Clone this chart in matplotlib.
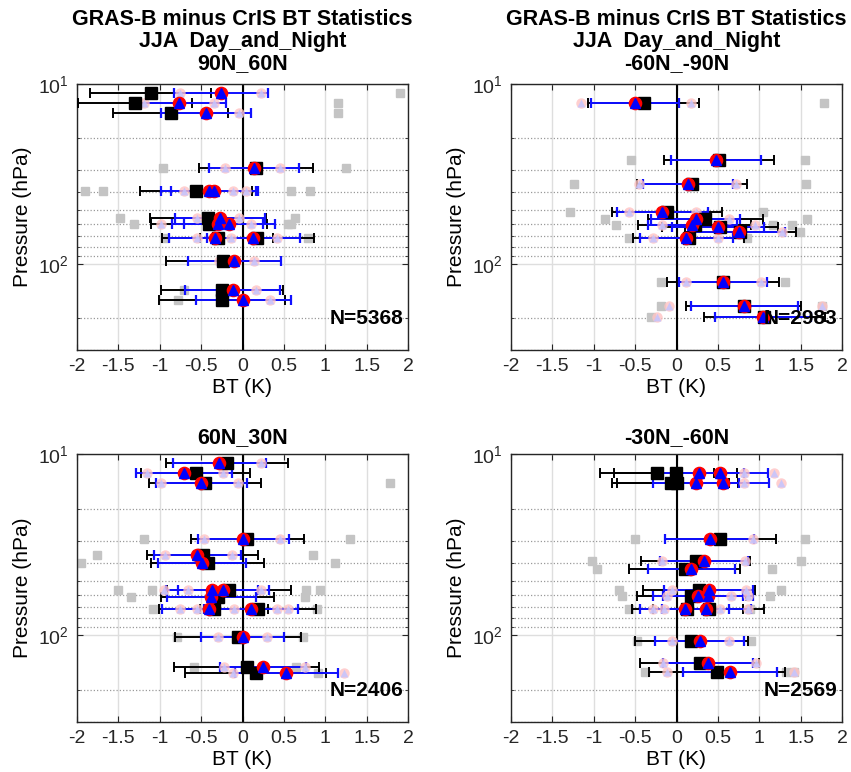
import matplotlib
matplotlib.use("Agg")
import matplotlib.pyplot as plt
from matplotlib.ticker import LogLocator, NullFormatter, FixedLocator

plt.rcParams['font.family'] = ['Liberation Sans', 'DejaVu Sans']
plt.rcParams['axes.unicode_minus'] = False

title_main = "GRAS-B minus CrIS BT Statistics\nJJA  Day_and_Night"
regions = ["90N_60N", "-60N_-90N", "60N_30N", "-30N_-60N"]
counts = ["N=5368", "N=2983", "N=2406", "N=2569"]
xticks = [-2, -1.5, -1, -0.5, 0, 0.5, 1, 1.5, 2]
xtick_labels = ["-2", "-1.5", "-1", "-0.5", "0", "0.5", "1", "1.5", "2"]

# ---------------- Panel 1: 90N_60N ----------------
p1_blk_p = [11.2, 12.8, 14.5, 29.3, 39.4, 55.2, 60.0, 71.3, 71.3, 95.8, 140, 159]
p1_blk_x = [-1.11, -1.30, -0.87, 0.16, -0.565, -0.42, -0.40, -0.30, 0.18, -0.23, -0.25, -0.25]
p1_blk_e = [0.73, 0.69, 0.69, 0.69, 0.675, 0.70, 0.70, 0.67, 0.69, 0.70, 0.74, 0.76]
p1_tri_p = [11.2, 12.8, 14.5, 29.3, 39.4, 39.4, 55.2, 60.0, 60.0, 71.3, 71.3, 95.8, 140, 159]
p1_tri_x = [-0.26, -0.77, -0.44, 0.14, -0.41, -0.34, -0.27, -0.30, -0.16, -0.33, 0.13, -0.10, -0.12, 0.01]
p1_tri_e = [0.565, 0.575, 0.545, 0.545, 0.57, 0.53, 0.54, 0.55, 0.55, 0.56, 0.56, 0.56, 0.57, 0.575]
p1_gray_x = [1.90, 1.15, 1.15, -0.96, 1.25, -1.90, -1.69, 0.585, 0.82, -1.48, 0.64, -1.31, 0.545, 0.585, -0.94, 0.79, -0.71, -0.775]
p1_gray_p = [11.2, 12.8, 14.5, 29.3, 29.3, 39.4, 39.4, 39.4, 39.4, 55.2, 55.2, 60.0, 60.0, 60.0, 71.3, 71.3, 140, 159]
p1_lt_x = [-0.75, 0.22, -1.19, -0.34, -0.04, -0.21, 0.45, -0.71, -0.12, 0.04, -0.545, -0.04, -0.99, 0.10, -0.545, -0.14, 0.42, -0.28, 0.14, 0.16, 0.33]
p1_lt_p = [11.2, 11.2, 12.8, 12.8, 14.5, 29.3, 29.3, 39.4, 39.4, 39.4, 55.2, 55.2, 60.0, 60.0, 71.3, 71.3, 71.3, 95.8, 95.8, 140, 159]

# ---------------- Panel 2: -60N_-90N ----------------
p2_blk_p = [12.8, 26.3, 36.1, 51.4, 56.5, 60.4, 62.0, 66.0, 71.3, 125, 170, 197]
p2_blk_x = [-0.395, 0.51, 0.19, -0.11, 0.35, 0.22, 0.53, 0.77, 0.15, 0.56, 0.81, 1.06]
p2_blk_e = [0.67, 0.665, 0.665, 0.665, 0.69, 0.68, 0.70, 0.67, 0.67, 0.68, 0.70, 0.73]
p2_tri_p = [12.8, 26.3, 36.1, 51.4, 56.5, 60.4, 62.0, 66.0, 71.3, 125, 170, 197]
p2_tri_x = [-0.50, 0.48, 0.14, -0.17, 0.23, 0.19, 0.50, 0.75, 0.12, 0.56, 0.82, 1.05]
p2_tri_e = [0.535, 0.545, 0.54, 0.545, 0.54, 0.54, 0.56, 0.56, 0.56, 0.53, 0.65, 0.58]
p2_gray_x = [1.78, -0.55, 1.55, -1.24, 1.57, -1.29, 1.05, -0.87, 1.58, -0.73, 1.17, 1.39, 1.49, -0.57, 0.85, -0.19, 1.31, -0.19, 1.76, -0.31]
p2_gray_p = [12.8, 26.3, 26.3, 36.1, 36.1, 51.4, 51.4, 56.5, 56.5, 60.4, 60.4, 60.4, 66.0, 71.3, 71.3, 125, 125, 170, 170, 197]
p2_lt_x = [-1.16, 0.17, -0.45, 0.72, -0.58, 0.23, 0.64, -0.18, 0.95, 1.28, -0.28, 0.50, 0.12, 1.02, -0.09, 1.76, -0.23]
p2_lt_p = [12.8, 12.8, 36.1, 36.1, 51.4, 51.4, 56.5, 60.4, 60.4, 66.0, 71.3, 71.3, 125, 125, 170, 170, 197]

# ---------------- Panel 3: 60N_30N ----------------
p3_blk_p = [11.2, 12.7, 14.5, 29.3, 36.1, 39.8, 56.4, 61.4, 71.3, 71.3, 102, 149.6, 161]
p3_blk_x = [-0.19, -0.565, -0.455, 0.06, -0.48, -0.42, -0.16, -0.30, -0.35, 0.19, -0.05, 0.05, 0.16]
p3_blk_e = [0.74, 0.66, 0.68, 0.685, 0.67, 0.68, 0.75, 0.68, 0.66, 0.70, 0.76, 0.88, 0.85]
p3_tri_p = [11.2, 12.7, 14.5, 29.3, 36.1, 39.8, 56.4, 56.4, 61.4, 71.3, 71.3, 102, 149.6, 161]
p3_tri_x = [-0.28, -0.71, -0.50, 0.01, -0.545, -0.49, -0.37, -0.23, -0.375, -0.41, 0.10, 0.0, 0.25, 0.53]
p3_tri_e = [0.56, 0.58, 0.55, 0.55, 0.53, 0.53, 0.56, 0.55, 0.54, 0.56, 0.57, 0.50, 0.52, 0.62]
p3_gray_x = [1.78, -1.19, 1.30, -1.76, 0.85, -1.95, 1.12, -1.51, -1.09, 0.77, 0.94, -1.35, 0.76, -1.08, 0.90, -0.79, 0.73, -0.585, 0.65, 0.91]
p3_gray_p = [14.5, 29.3, 29.3, 36.1, 36.1, 39.8, 39.8, 56.4, 56.4, 56.4, 56.4, 61.4, 61.4, 71.3, 71.3, 102, 102, 149.6, 149.6, 161]
p3_lt_x = [0.22, -1.15, -0.24, -0.99, -0.06, -0.46, 0.45, -0.94, -0.13, -0.95, -0.66, 0.22, -0.75, -0.55, -0.10, 0.42, 0.55, -0.30, 0.30, -0.22, 0.75, -0.12, 1.23]
p3_lt_p = [11.2, 12.7, 12.7, 14.5, 14.5, 29.3, 29.3, 36.1, 36.1, 56.4, 56.4, 56.4, 71.3, 71.3, 71.3, 71.3, 71.3, 102, 102, 149.6, 149.6, 161, 161]

# ---------------- Panel 4: -30N_-60N ----------------
p4_blk_p = [12.8, 12.8, 14.5, 14.5, 29.3, 38.9, 43.2, 55.9, 60.5, 71.3, 71.3, 108, 142, 159]
p4_blk_x = [-0.24, -0.01, -0.07, 0.01, 0.53, 0.23, 0.10, 0.27, 0.18, 0.13, 0.39, 0.18, 0.28, 0.49]
p4_blk_e = [0.69, 0.74, 0.71, 0.73, 0.67, 0.66, 0.67, 0.68, 0.66, 0.67, 0.67, 0.68, 0.72, 0.82]
p4_tri_p = [12.8, 12.8, 14.5, 14.5, 29.3, 38.9, 43.2, 55.9, 60.5, 60.5, 71.3, 71.3, 108, 142, 159]
p4_tri_x = [0.27, 0.53, 0.23, 0.56, 0.40, 0.33, 0.18, 0.39, 0.26, 0.38, 0.10, 0.36, 0.28, 0.38, 0.645]
p4_tri_e = [0.54, 0.57, 0.52, 0.56, 0.54, 0.53, 0.53, 0.54, 0.54, 0.54, 0.54, 0.54, 0.54, 0.54, 0.57]
p4_gray_x = [-0.50, 1.55, -1.02, 1.51, -0.96, 1.16, -0.70, 1.26, -0.66, 1.13, -0.57, 0.89, -0.48, 0.90, -0.375, 1.32, 1.42]
p4_gray_p = [29.3, 29.3, 38.9, 38.9, 43.2, 43.2, 55.9, 55.9, 60.5, 60.5, 71.3, 71.3, 108, 108, 159, 159, 159]
p4_lt_x = [0.81, 1.18, 0.81, 1.26, 0.92, -0.17, 0.83, -0.06, 0.84, -0.11, 0.66, 0.86, -0.29, -0.15, 0.53, 0.86, -0.05, 0.63, -0.16, 0.96, -0.12, 1.42]
p4_lt_p = [12.8, 12.8, 14.5, 14.5, 29.3, 38.9, 38.9, 55.9, 55.9, 60.5, 60.5, 60.5, 71.3, 71.3, 71.3, 71.3, 108, 108, 142, 142, 159, 159]

panels = [
    (p1_blk_p, p1_blk_x, p1_blk_e, p1_tri_p, p1_tri_x, p1_tri_e, p1_gray_x, p1_gray_p, p1_lt_x, p1_lt_p),
    (p2_blk_p, p2_blk_x, p2_blk_e, p2_tri_p, p2_tri_x, p2_tri_e, p2_gray_x, p2_gray_p, p2_lt_x, p2_lt_p),
    (p3_blk_p, p3_blk_x, p3_blk_e, p3_tri_p, p3_tri_x, p3_tri_e, p3_gray_x, p3_gray_p, p3_lt_x, p3_lt_p),
    (p4_blk_p, p4_blk_x, p4_blk_e, p4_tri_p, p4_tri_x, p4_tri_e, p4_gray_x, p4_gray_p, p4_lt_x, p4_lt_p),
]

W, H = 851, 772
fig = plt.figure(figsize=(W / 100, H / 100), dpi=100)
boxes = [
    (77, 84, 331, 266),
    (511, 84, 331, 266),
    (77, 454, 331, 268),
    (511, 454, 331, 268),
]

for i, (box, data) in enumerate(zip(boxes, panels)):
    l, t, w, h = box
    ax = fig.add_axes([l / W, 1 - (t + h) / H, w / W, h / H])
    bp, bx, be, tp, tx, te, gx, gp, lx, lp = data

    ax.set_yscale('log')
    ax.set_ylim(300, 10)
    ax.set_xlim(-2, 2)

    # grids
    ax.set_axisbelow(True)
    ax.grid(which='major', axis='both', color='#dedede', lw=1.0, ls='-', zorder=0)
    ax.yaxis.set_minor_locator(LogLocator(base=10, subs=range(2, 10)))
    ax.grid(which='minor', axis='y', color='#9a9a9a', lw=0.9, ls=(0, (1, 1.6)), zorder=0)
    ax.axvline(0, color='black', lw=1.5, zorder=1.5)

    # gray outlier squares
    ax.plot(gx, gp, ls='none', marker='s', ms=5.5, mfc='#c4c4c4', mec='#c4c4c4', zorder=2)

    # black error bars
    ax.errorbar(bx, bp, xerr=be, fmt='none', ecolor='black', elinewidth=1.4, capsize=3.5, capthick=1.4, zorder=3)
    # blue error bars
    ax.errorbar(tx, tp, xerr=te, fmt='none', ecolor='#1010ff', elinewidth=1.4, capsize=3.5, capthick=1.6, zorder=4)

    # light markers
    ax.plot(lx, lp, ls='none', marker='o', ms=7.5, mfc='#ffc4c4', mec='none', alpha=0.8, zorder=4.5)
    ax.plot(lx, lp, ls='none', marker='^', ms=5.5, mfc='#c4c4ff', mec='none', alpha=0.85, zorder=4.6)

    # black squares
    ax.plot(bx, bp, ls='none', marker='s', ms=8.3, mfc='black', mec='black', zorder=5)
    # red circles with blue triangles
    ax.plot(tx, tp, ls='none', marker='o', ms=8.8, mfc='#ff0000', mec='#ff0000', zorder=6)
    ax.plot(tx, tp, ls='none', marker='^', ms=6.5, mfc='#0000ff', mec='#0000ff', zorder=7)

    # ticks & labels
    ax.set_xticks(xticks)
    ax.set_xticklabels(xtick_labels)
    ax.yaxis.set_major_locator(FixedLocator([10, 100]))
    ax.yaxis.set_minor_formatter(NullFormatter())
    ax.tick_params(which='both', direction='in', top=True, right=True, labelsize=14, colors='#262626')
    ax.tick_params(which='major', length=4, pad=6)
    ax.tick_params(which='minor', length=2.5)
    for s in ax.spines.values():
        s.set_color('#262626')
        s.set_linewidth(1.0)

    ax.set_xlabel('BT (K)', fontsize=15, labelpad=2)
    ax.set_ylabel('Pressure (hPa)', fontsize=15, labelpad=4)

    if i < 2:
        ttl = title_main + "\n" + regions[i]
        ax.set_title(ttl, fontsize=15.5, fontweight='bold', linespacing=1.05, pad=11)
    else:
        ttl = regions[i]
        ax.set_title(ttl, fontsize=15.5, fontweight='bold', pad=8)

    ax.text(0.985, 200, counts[i], transform=ax.get_yaxis_transform(), ha='right', va='center',
            fontsize=15, fontweight='bold', zorder=10)

fig.savefig('out.png', dpi=100, facecolor='white')
